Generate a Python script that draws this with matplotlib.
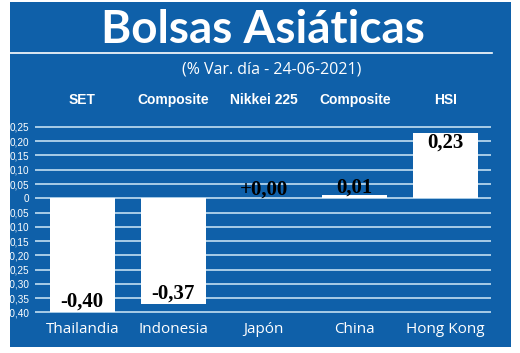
import matplotlib
matplotlib.use("Agg")
import matplotlib.pyplot as plt
from matplotlib.patches import Rectangle
from matplotlib.lines import Line2D

# data
countries = ["Thailandia", "Indonesia", "Japón", "China", "Hong Kong"]
indices = ["SET", "Composite", "Nikkei 225", "Composite", "HSI"]
changes = [-0.40, -0.37, 0.00, 0.01, 0.23]
value_labels = ["-0,40", "-0,37", "+0,00", "0,01", "0,23"]
tick_values = [0.25, 0.20, 0.15, 0.10, 0.05, 0, -0.05, -0.10, -0.15, -0.20, -0.25, -0.30, -0.35, -0.40]
tick_labels = ["0,25", "0,20", "0,15", "0,10", "0,05", "0", "0,05", "0,10", "0,15", "-0,20", "0,25", "-0,30", "-0,35", "-0,40"]

BLUE = "#0f60a9"
GRID = "#d2eaf8"
W, H = 520, 353

fig = plt.figure(figsize=(W / 100, H / 100), dpi=100)
fig.patch.set_facecolor("white")

# blue panel behind everything
fig.patches.append(Rectangle((10 / W, 1 - 347 / H), 501 / W, 345 / H,
                             transform=fig.transFigure, facecolor=BLUE,
                             edgecolor="none", zorder=0))
# underline below the title
fig.lines.append(Line2D([10 / W, 492 / W], [1 - 53 / H, 1 - 53 / H],
                        transform=fig.transFigure, color="white", lw=1.2))

fig.text(263 / W, 1 - 30 / H, "Bolsas Asiáticas", color="white",
         fontsize=33, fontweight="bold", family="Lato", ha="center", va="center")
fig.text(272 / W, 1 - 69 / H, "(% Var. día - 24-06-2021)", color="white",
         fontsize=11.5, family="Open Sans", ha="center", va="center")

ax = fig.add_axes([35 / W, 1 - 313.9 / H, 456 / W, 188.4 / H])
ax.set_zorder(2)
ax.set_facecolor("none")
x = list(range(len(countries)))
ax.set_xlim(-0.52, 4.5)
ax.set_ylim(-0.405, 0.255)

for t in tick_values:
    ax.axhline(t, color=GRID, lw=1.1, zorder=1)

ax.bar(x, changes, width=0.715, color="white", zorder=2)

for xi, v, lab in zip(x, changes, value_labels):
    if v < 0:
        off = 7.5
    elif v > 0.1:
        off = -7.5
    else:
        off = 6
    ax.annotate(lab, (xi, v), xytext=(0, off), textcoords="offset points",
                ha="center", va="center", fontsize=15, fontweight="bold",
                family="Liberation Serif", color="black", zorder=3)

# index names above the plot
for xi, name in zip(x, indices):
    ax.text(xi, 1.135, name, transform=ax.get_xaxis_transform(),
            ha="center", va="center", color="white", fontsize=10,
            family="Liberation Sans", fontweight="bold")

ax.set_yticks(tick_values)
ax.set_yticklabels(tick_labels, color="white", fontsize=7.2, family="Liberation Sans")
ax.set_xticks(x)
ax.set_xticklabels(countries, color="white", fontsize=11, family="Open Sans")
ax.tick_params(axis="y", length=0, pad=4)
ax.tick_params(axis="x", length=0, pad=6)
for s in ax.spines.values():
    s.set_visible(False)

fig.savefig("out.png", dpi=100, facecolor="white")
